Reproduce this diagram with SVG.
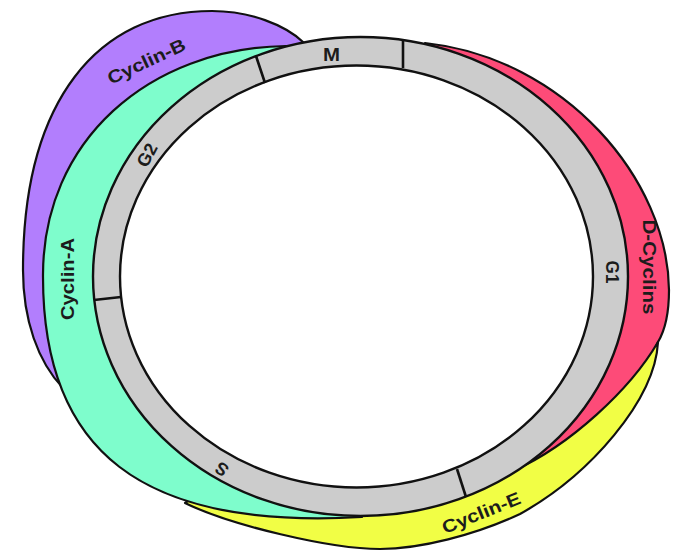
<svg xmlns="http://www.w3.org/2000/svg" width="673" height="551" viewBox="0 0 673 551">
<style>
.band{stroke:#111;stroke-width:2.2;stroke-linejoin:round}
.lbl{font-family:"Liberation Sans",Arial,Helvetica,sans-serif;font-weight:bold;font-size:18px;fill:#1c1c1c;text-anchor:middle}
.ring{stroke:#111;stroke-width:2.4}
.div{stroke:#111;stroke-width:2.6;fill:none}
</style>
<rect width="673" height="551" fill="#ffffff"/>
<g id="cyclin-b">
<path class="band" fill="#b27efd" d="M303,42 C285,25 250,11 212,11 C98,11 23,100 23,270 C23,320 38,362 63,388 L100,374 L360,277 Z"/>
<text class="lbl" x="149" y="67" textLength="84" lengthAdjust="spacingAndGlyphs" transform="rotate(-25 149 67)">Cyclin-B</text>
</g>
<g id="d-cyclins">
<path class="band" fill="#fd4b78" d="M425,43 C565,58 668,180 669,290 C669,315 664,332 658,342 L632,400 L560,464 L480,488 L360,277 Z"/>
<text class="lbl" x="643" y="267" textLength="95" lengthAdjust="spacingAndGlyphs" transform="rotate(90 643 267)">D-Cyclins</text>
</g>
<g id="cyclin-e">
<path class="band" fill="#f1fe45" d="M658,342 C655,400 590,475 520,514 C475,535 420,549 380,549 C330,549 230,525 185,503 L250,460 L515,470 C570,445 630,390 658,342 Z"/>
<text class="lbl" x="483.5" y="518.5" textLength="83" lengthAdjust="spacingAndGlyphs" transform="rotate(-22 483.5 518.5)">Cyclin-E</text>
</g>
<g id="cyclin-a">
<path class="band" fill="#7efdcc" d="M286,46 C150,48 42,140 43,277 C43,450 140,530 362,517 L360,277 Z"/>
<text class="lbl" x="74" y="279" textLength="82" lengthAdjust="spacingAndGlyphs" transform="rotate(-90 74 279)">Cyclin-A</text>
</g>
<g id="cell-cycle">
<ellipse class="ring" cx="360.5" cy="276.5" rx="267.5" ry="239.5" fill="#cccccc"/>
<ellipse class="ring" cx="356.5" cy="276.5" rx="236.5" ry="211" fill="#ffffff"/>
<g id="dividers">
<line class="div" x1="256" y1="56" x2="265" y2="83"/>
<line class="div" x1="403" y1="39" x2="403" y2="68"/>
<line class="div" x1="94" y1="300" x2="121" y2="297"/>
<line class="div" x1="466" y1="497" x2="457" y2="469"/>
</g>
<g id="phase-m"><text class="lbl" x="331.5" y="60.5" textLength="17" lengthAdjust="spacingAndGlyphs">M</text></g>
<g id="phase-g1"><text class="lbl" x="605.5" y="272" textLength="23" lengthAdjust="spacingAndGlyphs" transform="rotate(90 605.5 272)">G1</text></g>
<g id="phase-s"><text class="lbl" x="225.4" y="464.1" transform="rotate(-145 225.4 464.1)">S</text></g>
<g id="phase-g2"><text class="lbl" x="152.5" y="158" textLength="24" lengthAdjust="spacingAndGlyphs" transform="rotate(-62 152.5 158)">G2</text></g>
</g>
</svg>
